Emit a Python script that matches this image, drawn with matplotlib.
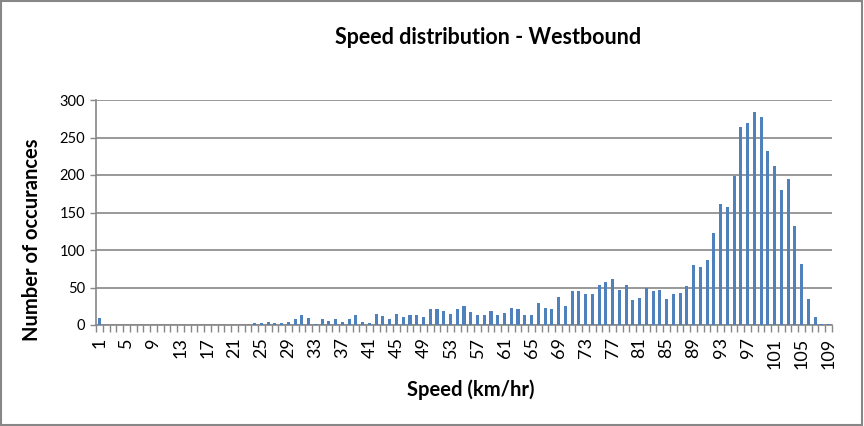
import numpy as np
import matplotlib
matplotlib.use("Agg")
import matplotlib.pyplot as plt
from matplotlib.patches import Rectangle
from matplotlib.ticker import MultipleLocator, FixedLocator

plt.rcParams['font.family'] = ['Lato', 'DejaVu Sans']

# speed bins (km/hr) and counts
speeds = list(range(1, 110))
counts = [10] + [0] * 22 + [
    3, 3, 4, 3, 3, 4, 8, 14, 10, 2,          # 24-33
    8, 6, 8, 4, 8, 14, 4, 3, 15, 12,         # 34-43
    8, 15, 11, 14, 14, 11, 22, 21, 19, 15,   # 44-53
    22, 25, 18, 14, 14, 19, 14, 16, 23, 22,  # 54-63
    14, 14, 29, 23, 22, 38, 26, 46, 46, 41,  # 64-73
    42, 54, 58, 62, 47, 53, 33, 36, 49, 46,  # 74-83
    47, 35, 42, 43, 52, 80, 78, 87, 123, 162,  # 84-93
    157, 199, 264, 269, 284, 277, 232, 212, 180, 195,  # 94-103
    132, 81, 35, 11, 2, 1,                   # 104-109
]
tick_labels = [str(s) for s in speeds[::4]]

fig = plt.figure(figsize=(8.64, 4.26), dpi=100)
ax = fig.add_axes([96 / 864, 1 - 325 / 426, (832 - 96) / 864, 225 / 426])

x = np.arange(len(speeds))
ax.bar(x, counts, width=0.45, color='#4F81BD', zorder=3)

ax.set_xlim(-0.5, len(speeds) - 0.5)
ax.set_ylim(0, 300)
ax.yaxis.set_major_locator(MultipleLocator(50))
ax.grid(axis='y', color='#878787', lw=1.2, zorder=0)

ax.set_xticks(x[::4])
ax.set_xticklabels(tick_labels, rotation=90, fontsize=13)
ax.xaxis.set_minor_locator(FixedLocator(np.arange(-0.5, len(speeds), 1)))
ax.tick_params(axis='x', which='major', length=0, pad=9)
ax.tick_params(axis='x', which='minor', length=5, color='#878787', width=1)
ax.tick_params(axis='y', length=4, color='#878787', width=1, labelsize=10.5, pad=4)

for s in ['top', 'right']:
    ax.spines[s].set_visible(False)
for s in ['left', 'bottom']:
    ax.spines[s].set_color('#878787')
    ax.spines[s].set_linewidth(1.2)

fig.text(488 / 864, 1 - 37 / 426, 'Speed distribution - Westbound',
         ha='center', va='center', fontsize=15.5, fontweight='bold')
fig.text(471 / 864, 1 - 390 / 426, 'Speed (km/hr)',
         ha='center', va='center', fontsize=14.5, fontweight='bold')
fig.text(32 / 864, 1 - 240 / 426, 'Number of occurances', rotation=90,
         ha='center', va='center', fontsize=14.5, fontweight='bold')

fig.patches.append(Rectangle((0.001, 0.002), 0.997, 0.995, transform=fig.transFigure,
                             fill=False, edgecolor='#878787', lw=1.5))

fig.savefig('out.png', dpi=100)
